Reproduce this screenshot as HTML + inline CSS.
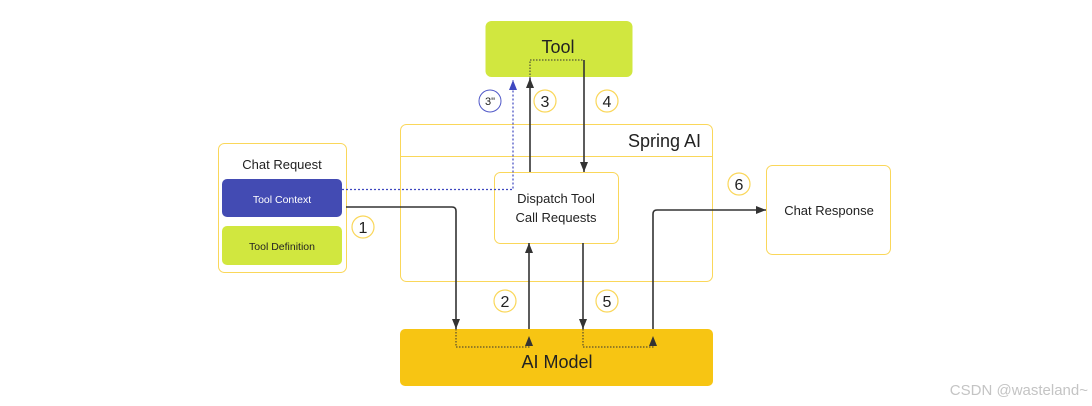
<!DOCTYPE html>
<html><head><meta charset="utf-8"><style>
html,body{margin:0;padding:0;background:#fff;}
svg{display:block;font-family:"Liberation Sans",sans-serif;}
</style></head><body>
<svg width="1092" height="406" viewBox="0 0 1092 406" xmlns="http://www.w3.org/2000/svg">
<defs>
<marker id="a" viewBox="0 0 10 10" refX="10" refY="5" markerWidth="10" markerHeight="10" markerUnits="userSpaceOnUse" orient="auto"><path d="M0,1 L10,5 L0,9 z" fill="#333"/></marker>
<marker id="b" viewBox="0 0 10 10" refX="10" refY="5" markerWidth="10" markerHeight="10" markerUnits="userSpaceOnUse" orient="auto"><path d="M0,1 L10,5 L0,9 z" fill="#3f48c0"/></marker>
</defs>
<rect x="485.5" y="21" width="147" height="56" rx="6" fill="#d1e73f"/>
<text x="558" y="53" font-size="18" text-anchor="middle" fill="#222">Tool</text>
<rect x="400.5" y="124.5" width="312" height="157" rx="6" fill="none" stroke="#fad75a"/>
<line x1="400.5" y1="156.5" x2="712.5" y2="156.5" stroke="#fad75a"/>
<text x="701" y="147" font-size="18" text-anchor="end" fill="#222">Spring AI</text>
<rect x="218.5" y="143.5" width="128" height="129" rx="6" fill="#fff" stroke="#fad75a"/>
<text x="282" y="169" font-size="13" text-anchor="middle" fill="#222">Chat Request</text>
<rect x="222" y="179" width="120" height="38" rx="5" fill="#434bb3"/>
<text x="282" y="203" font-size="10.5" text-anchor="middle" fill="#fff">Tool Context</text>
<rect x="222" y="226" width="120" height="39" rx="5" fill="#d1e73f"/>
<text x="282" y="250" font-size="10.5" text-anchor="middle" fill="#222">Tool Definition</text>
<rect x="494.5" y="172.5" width="124" height="71" rx="6" fill="#fff" stroke="#fad75a"/>
<text x="556" y="203" font-size="13" text-anchor="middle" fill="#222">Dispatch Tool</text>
<text x="556" y="222" font-size="13" text-anchor="middle" fill="#222">Call Requests</text>
<rect x="766.5" y="165.5" width="124" height="89" rx="6" fill="#fff" stroke="#fad75a"/>
<text x="829" y="215" font-size="13" text-anchor="middle" fill="#222">Chat Response</text>
<rect x="400" y="329" width="313" height="57" rx="5" fill="#f7c513"/>
<text x="557" y="368" font-size="18" text-anchor="middle" fill="#222">AI Model</text>
<g fill="none" stroke="#333" stroke-width="1.6">
<path d="M346,207 H452 Q456,207 456,211 V329" marker-end="url(#a)"/>
<path d="M529,329 V243" marker-end="url(#a)"/>
<path d="M583,243 V329" marker-end="url(#a)"/>
<path d="M653,329 V214 Q653,210 657,210 H766" marker-end="url(#a)"/>
<path d="M530,172 V78" marker-end="url(#a)"/>
<path d="M584,60 V172" marker-end="url(#a)"/>
</g>
<g fill="none" stroke="#333" stroke-width="1" stroke-dasharray="1.5,1.5">
<path d="M456,329 V347 H529 V336" marker-end="url(#a)"/>
<path d="M583,329 V347 H653 V336" marker-end="url(#a)"/>
<path d="M530,78 V60 H584"/>
</g>
<path d="M342,189.5 H513 V80" fill="none" stroke="#3f48c0" stroke-width="1.2" stroke-dasharray="2,2" marker-end="url(#b)"/>
<g fill="#fff" stroke="#fad75a" stroke-width="1.2">
<circle cx="363" cy="227" r="11"/><circle cx="505" cy="301" r="11"/>
<circle cx="545" cy="101" r="11"/><circle cx="607" cy="101" r="11"/>
<circle cx="607" cy="301" r="11"/><circle cx="739" cy="184" r="11"/>
</g>
<circle cx="490" cy="101" r="11" fill="#fff" stroke="#5058c8" stroke-width="1"/>
<g font-size="16" text-anchor="middle" fill="#222">
<text x="363" y="233">1</text><text x="505" y="307">2</text>
<text x="545" y="107">3</text><text x="607" y="107">4</text>
<text x="607" y="307">5</text><text x="739" y="190">6</text>
</g>
<text x="490" y="105" font-size="11" text-anchor="middle" fill="#222">3"</text>
<text x="1088" y="395" font-size="15" text-anchor="end" fill="#c4c4c4">CSDN @wasteland~</text>
</svg>
</body></html>
